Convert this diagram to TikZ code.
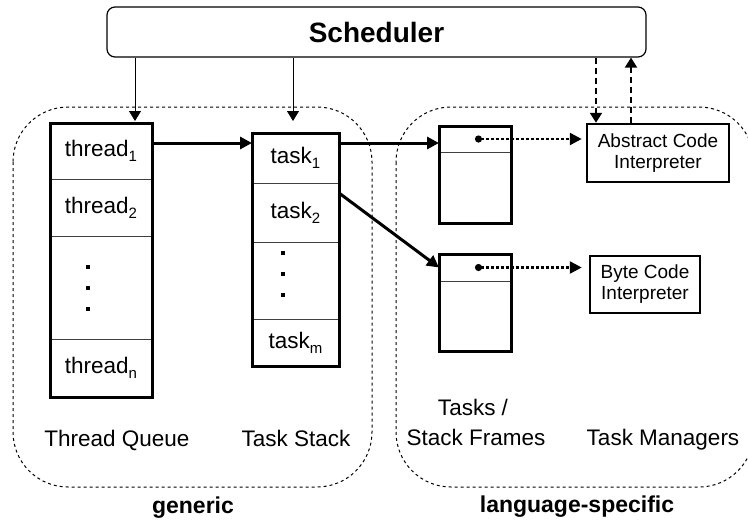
\documentclass[tikz,border=0pt]{standalone}
\usepackage{fontspec}
\setmainfont{Liberation Sans}
\usetikzlibrary{arrows.meta}
\newcommand{\lowidx}[1]{\raisebox{-5pt}{\fontsize{15}{15}\selectfont #1}}
\tikzset{
  cell/.style={draw=black!75, line width=1pt, inner sep=0pt, outer sep=0pt},
  outline/.style={line width=3pt},
  group/.style={dashed, line width=1pt, rounded corners=55pt},
  thinarrow/.style={line width=0.8pt, -{Triangle[length=10pt,width=12pt]}},
  fat/.style={line width=3pt, -{Triangle[length=12pt,width=12pt]}},
  ptr/.style={line width=2.5pt, dash pattern=on 3pt off 2pt, {Circle[length=7pt]}-{Triangle[length=12pt,width=12pt]}},
  ctrl/.style={line width=2pt, dash pattern=on 6pt off 4pt, -{Triangle[length=10pt,width=12pt]}},
  manager/.style={draw, line width=2.5pt, align=center, inner sep=0pt, font=\fontsize{19}{21}\selectfont}
}
\begin{document}
\begin{tikzpicture}[x=1pt,y=-1pt,font=\fontsize{22.5}{27}\selectfont]
\useasboundingbox (0,0) rectangle (748,523);
\draw[group] (13,107) rectangle (372,487);
\draw[group] (396,107) rectangle (754,487);

\node[draw, rounded corners=8pt, line width=1.2pt, minimum width=539pt, minimum height=50pt, font=\bfseries\fontsize{28}{30}\selectfont] (sched) at (376.5,32) {Scheduler};

\node[cell, minimum width=102pt, minimum height=56pt] (th1) at (101,151) {thread\lowidx{1}};
\node[cell, minimum width=102pt, minimum height=57pt] (th2) at (101,207.5) {thread\lowidx{2}};
\node[cell, minimum width=102pt, minimum height=103pt] (thd) at (101,287.5) {};
\node[cell, minimum width=102pt, minimum height=58pt] (thn) at (101,368) {thread\lowidx{n}};
\draw[outline] (th1.north west) rectangle (thn.south east);
\foreach \y in {265,286,307} \fill (86,\y) rectangle ++(4,4);

\node[cell, minimum width=87pt, minimum height=50pt] (tk1) at (295.5,158) {task\lowidx{1}};
\node[cell, minimum width=87pt, minimum height=59pt] (tk2) at (295.5,212.5) {task\lowidx{2}};
\node[cell, minimum width=87pt, minimum height=77pt] (tkd) at (295.5,280.5) {};
\node[cell, minimum width=87pt, minimum height=47pt] (tkm) at (295.5,342.5) {task\lowidx{m}};
\draw[outline] (tk1.north west) rectangle (tkm.south east);
\foreach \y in {251,272,293} \fill (281,\y) rectangle ++(4,4);

\node[cell, minimum width=72pt, minimum height=26pt] (fr1h) at (475,139) {};
\node[cell, minimum width=72pt, minimum height=71pt] (fr1) at (475,187.5) {};
\draw[outline] (fr1h.north west) rectangle (fr1.south east);
\node[cell, minimum width=72pt, minimum height=27pt] (fr2h) at (475,267.5) {};
\node[cell, minimum width=72pt, minimum height=70pt] (fr2) at (475,316) {};
\draw[outline] (fr2h.north west) rectangle (fr2.south east);

\node[manager, minimum width=142pt, minimum height=58pt] (ab) at (658,153) {Abstract Code\\Interpreter};
\node[manager, minimum width=110pt, minimum height=57pt] (by) at (645,284.5) {Byte Code\\Interpreter};

\coordinate (qin) at (135,121);
\coordinate (sin) at (293,121);
\coordinate (dn) at (596,0);
\coordinate (up) at (631,0);
\draw[thinarrow] (sched.south -| qin) -- (qin);
\draw[thinarrow] (sched.south -| sin) -- (sin);
\draw[fat] ([yshift=8pt]th1.east) -- ([yshift=15pt]tk1.west);
\draw[fat] ([yshift=15pt]tk1.east) -- ([yshift=-4pt]fr1h.west);
\draw[fat] ([yshift=19.5pt]tk2.east) -- (fr2h.west);
\draw[ptr, shorten >=4pt] (fr1h.center) -- ([yshift=14pt]ab.west);
\draw[ptr, shorten >=7pt] (fr2h.center) -- ([yshift=17pt]by.west);
\draw[ctrl] (sched.south -| dn) -- (ab.north -| dn);
\draw[ctrl] (ab.north -| up) -- (sched.south -| up);

\node[anchor=base] (lq) at (117,446) {Thread Queue};
\node[anchor=base] (ls) at (296,446) {Task Stack};
\node[anchor=base] (lt) at (473,415) {Tasks /};
\node[anchor=base] (lf) at (476,445) {Stack Frames};
\node[anchor=base] (lm) at (663,445) {Task Managers};
\node[anchor=base, font=\bfseries\fontsize{23}{27}\selectfont] (lg) at (193,513) {generic};
\node[anchor=base, font=\bfseries\fontsize{23}{27}\selectfont] (ll) at (577,512) {language-specific};
\end{tikzpicture}
\end{document}
